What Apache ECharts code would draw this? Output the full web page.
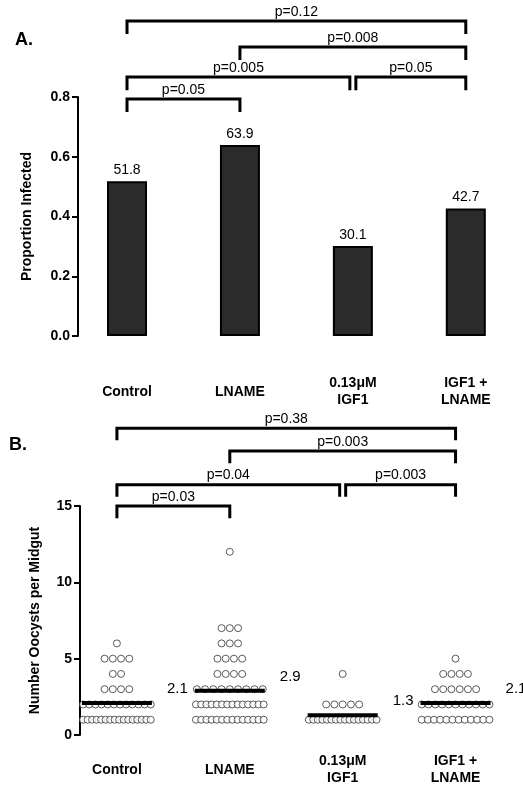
<!DOCTYPE html><html><head><meta charset="utf-8"><script src="https://cdn.jsdelivr.net/npm/echarts@6/dist/echarts.min.js"></script>
<style>html,body{margin:0;padding:0;background:#fff}#c{width:523px;height:800px}</style></head><body><div id="c"></div><script>
const categories=['Control','LNAME','0.13μM\nIGF1','IGF1 +\nLNAME'];
const propInfected=[0.518,0.639,0.301,0.427];
const yTicksA=[0,0.2,0.4,0.6,0.8];
const yTicksB=[0,5,10,15];
// bracket: [from, to, p-label]
const bracketsA=[[0,3,'p=0.12'],[1,3,'p=0.008'],[0,2,'p=0.005'],[2,3,'p=0.05'],[0,1,'p=0.05']];
const bracketLevelsA=[[1.054,1.011],[0.967,0.924],[0.867,0.823],[0.867,0.823],[0.793,0.75]];
const bracketsB=[[0,3,'p=0.38'],[1,3,'p=0.003'],[0,2,'p=0.04'],[2,3,'p=0.003'],[0,1,'p=0.03']];
const bracketLevelsB=[[20.1,19.3],[18.6,17.8],[16.4,15.6],[16.4,15.6],[15.0,14.2]];
// oocyst counts: [value, number of mosquitoes]
const oocControl=[[6,1],[5,4],[4,2],[3,4],[2,12],[1,16]];
const oocLNAME=[[12,1],[7,3],[6,3],[5,4],[4,4],[3,9],[2,14],[1,14]];
const oocIGF1=[[4,1],[2,5],[1,16]];
const oocIGF1LNAME=[[5,1],[4,4],[3,6],[2,11],[1,12]];
const oocMeans=[2.1,2.9,1.3,2.1];

const groups=[oocControl,oocLNAME,oocIGF1,oocIGF1LNAME];
const dots=[];
groups.forEach((g,gi)=>g.forEach(([v,n])=>{
  const step=Math.min(0.073,0.6/Math.max(n-1,1));
  for(let k=0;k<n;k++) dots.push([gi+(k-(n-1)/2)*step,v]);
}));
const bold='bold';
function bracketSeries(xi,yi,br,lv){
  return {type:'custom',xAxisIndex:xi,yAxisIndex:yi,clip:false,silent:true,
    data:br.map((b,i)=>[b[0],b[1],lv[i][0],lv[i][1],i]),
    renderItem:(p,api)=>{
      const a=api.value(0),b=api.value(1),top=api.value(2),leg=api.value(3),i=api.value(4);
      let x1=api.coord([a,top])[0],x2=api.coord([b,top])[0];
      const br0=br[i];
      if(br0[0]===2) x1+=3; if(br0[1]===2) x2-=3;
      const yt=api.coord([a,top])[1],yl=api.coord([a,leg])[1];
      return {type:'group',children:[
        {type:'polyline',shape:{points:[[x1,yl],[x1,yt],[x2,yt],[x2,yl]]},style:{stroke:'#000',lineWidth:3,fill:null}},
        {type:'text',style:{text:br0[2],x:(x1+x2)/2,y:yt-2,align:'center',verticalAlign:'bottom',font:'14px Arial, Liberation Sans',fill:'#000'}}
      ]};
    }};
}
const chart=echarts.init(document.getElementById('c'),null,{renderer:'canvas'});
const yAxisCommon={axisLine:{show:true,onZero:false,lineStyle:{color:'#000',width:2}},axisTick:{show:true,length:6,lineStyle:{color:'#000',width:2}},splitLine:{show:false},
  axisLabel:{color:'#000',fontWeight:bold,fontSize:14,fontFamily:'Arial, Liberation Sans'},nameLocation:'middle',nameTextStyle:{color:'#000',fontWeight:bold,fontSize:14,fontFamily:'Arial, Liberation Sans'}};
const xAxisCommon=(min,max,margin)=>({type:'value',min,max,axisLine:{show:false,onZero:false},axisTick:{show:false},splitLine:{show:false},
  axisLabel:{customValues:[0,1,2,3],margin,verticalAlign:'middle',color:'#000',fontWeight:bold,fontSize:14,lineHeight:17,fontFamily:'Arial, Liberation Sans',formatter:v=>categories[Math.round(v)]||''}});
chart.setOption({
  animation:false,
  title:[{text:'A.',left:10,top:26,textStyle:{fontSize:18,fontWeight:bold,color:'#000',fontFamily:'Arial, Liberation Sans'}},
         {text:'B.',left:4,top:431,textStyle:{fontSize:18,fontWeight:bold,color:'#000',fontFamily:'Arial, Liberation Sans'}}],
  grid:[{left:78,top:97,right:3,bottom:464},{left:80,top:506,right:11,bottom:65}],
  xAxis:[Object.assign(xAxisCommon(-0.434,3.48,56),{gridIndex:0}),Object.assign(xAxisCommon(-0.327,3.5,35),{gridIndex:1})],
  yAxis:[Object.assign({},yAxisCommon,{gridIndex:0,type:'value',min:0,max:0.8,interval:0.2,name:'Proportion Infected',nameGap:44,axisLabel:Object.assign({},yAxisCommon.axisLabel,{formatter:v=>v.toFixed(1)})}),
         Object.assign({},yAxisCommon,{gridIndex:1,type:'value',min:0,max:15,interval:5,name:'Number Oocysts per Midgut',nameGap:38})],
  series:[
    {type:'bar',xAxisIndex:0,yAxisIndex:0,barWidth:40,data:propInfected.map((v,i)=>[i,v]),
     itemStyle:{color:'#2b2b2b',borderColor:'#000',borderWidth:2},
     label:{show:true,position:'top',distance:4,color:'#000',fontSize:14,fontFamily:'Arial, Liberation Sans',formatter:p=>(p.value[1]*100).toFixed(1)}},
    bracketSeries(0,0,bracketsA,bracketLevelsA),
    {type:'scatter',xAxisIndex:1,yAxisIndex:1,data:dots,symbol:'circle',symbolSize:7,itemStyle:{color:'#fff',borderColor:'#333',borderWidth:1},z:3},
    {type:'custom',xAxisIndex:1,yAxisIndex:1,z:4,data:oocMeans.map((m,i)=>[i,m]),
     renderItem:(p,api)=>{const c=api.coord([api.value(0),api.value(1)]);
       return {type:'group',children:[{type:'line',shape:{x1:c[0]-35,y1:c[1],x2:c[0]+35,y2:c[1]},style:{stroke:'#000',lineWidth:4}},
       {type:'text',style:{text:api.value(1).toFixed(1),x:c[0]+50,y:c[1]-14,verticalAlign:'middle',font:'15px Arial, Liberation Sans',fill:'#000'}}]};}},
    bracketSeries(1,1,bracketsB,bracketLevelsB)
  ]
});
</script></body></html>
